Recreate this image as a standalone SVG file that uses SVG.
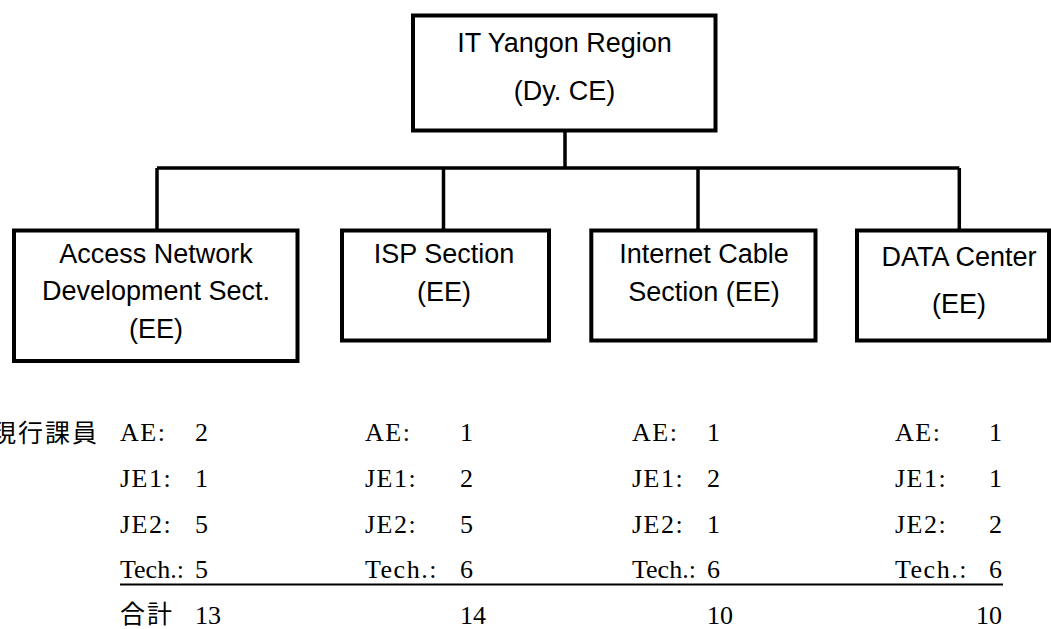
<svg xmlns="http://www.w3.org/2000/svg" width="1051" height="629" viewBox="0 0 1051 629">
<style>
.box{fill:#fff;stroke:#000;stroke-width:4}
.con{fill:none;stroke:#000;stroke-width:3.5;stroke-linejoin:miter}
.t{font-family:"Liberation Sans",Arial,sans-serif;font-size:27px;fill:#000;text-anchor:middle}
.s{font-family:"Liberation Serif","Times New Roman",serif;font-size:26px;fill:#000;letter-spacing:1.5px}
.tight{letter-spacing:0}
.n{font-family:"Liberation Serif","Times New Roman",serif;font-size:26px;fill:#000}
.c{font-family:"Noto Sans CJK JP","Noto Sans CJK TC",sans-serif;font-size:25px;fill:#000;letter-spacing:2px}
</style>
<rect width="1051" height="629" fill="#fff"/>
<g id="connectors">
<path class="con" d="M565 130.5V168M157 168H959.3M157 168V230M443.5 168V230M698 168V230M959.3 168V230"/>
</g>
<g id="top">
<rect class="box" x="413" y="15.5" width="302.5" height="115"/>
<text class="t" x="564.5" y="52">IT Yangon Region</text>
<text class="t" x="564.5" y="100">(Dy. CE)</text>
</g>
<g id="access">
<rect class="box" x="14" y="230.5" width="283.5" height="130.5"/>
<text class="t" x="156" y="263">Access Network</text>
<text class="t" x="156" y="300">Development Sect.</text>
<text class="t" x="156" y="338">(EE)</text>
</g>
<g id="isp">
<rect class="box" x="342" y="230.5" width="207" height="110"/>
<text class="t" x="444" y="263">ISP Section</text>
<text class="t" x="444" y="301">(EE)</text>
</g>
<g id="cable">
<rect class="box" x="591.3" y="230.5" width="224.2" height="110"/>
<text class="t" x="704" y="263">Internet Cable</text>
<text class="t" x="704" y="301">Section (EE)</text>
</g>
<g id="datacenter">
<rect class="box" x="857" y="230.5" width="192" height="110"/>
<text class="t" x="959" y="266">DATA Center</text>
<text class="t" x="959" y="313">(EE)</text>
</g>
<g id="table">
<text class="c" x="-9" y="442">現行課員</text>
<text class="s" x="120" y="441">AE:</text>
<text class="s" x="120" y="487">JE1:</text>
<text class="s" x="120" y="533">JE2:</text>
<text class="s tight" x="120" y="578">Tech.:</text>
<text class="c" x="120" y="623">合計</text>
<text class="n" x="195" y="441">2</text>
<text class="n" x="195" y="487">1</text>
<text class="n" x="195" y="533">5</text>
<text class="n" x="195" y="578">5</text>
<text class="n" x="195" y="624">13</text>
<text class="s" x="365" y="441">AE:</text>
<text class="s" x="365" y="487">JE1:</text>
<text class="s" x="365" y="533">JE2:</text>
<text class="s" x="365" y="578">Tech.:</text>
<text class="n" x="460" y="441">1</text>
<text class="n" x="460" y="487">2</text>
<text class="n" x="460" y="533">5</text>
<text class="n" x="460" y="578">6</text>
<text class="n" x="460" y="624">14</text>
<text class="s" x="632" y="441">AE:</text>
<text class="s" x="632" y="487">JE1:</text>
<text class="s" x="632" y="533">JE2:</text>
<text class="s tight" x="632" y="578">Tech.:</text>
<text class="n" x="707" y="441">1</text>
<text class="n" x="707" y="487">2</text>
<text class="n" x="707" y="533">1</text>
<text class="n" x="707" y="578">6</text>
<text class="n" x="707" y="624">10</text>
<text class="s" x="895" y="441">AE:</text>
<text class="s" x="895" y="487">JE1:</text>
<text class="s" x="895" y="533">JE2:</text>
<text class="s" x="895" y="578">Tech.:</text>
<text class="n" x="1002" y="441" text-anchor="end">1</text>
<text class="n" x="1002" y="487" text-anchor="end">1</text>
<text class="n" x="1002" y="533" text-anchor="end">2</text>
<text class="n" x="1002" y="578" text-anchor="end">6</text>
<text class="n" x="1002" y="624" text-anchor="end">10</text>
<line x1="120" y1="584.5" x2="1003" y2="584.5" stroke="#000" stroke-width="2"/>
</g>
</svg>
